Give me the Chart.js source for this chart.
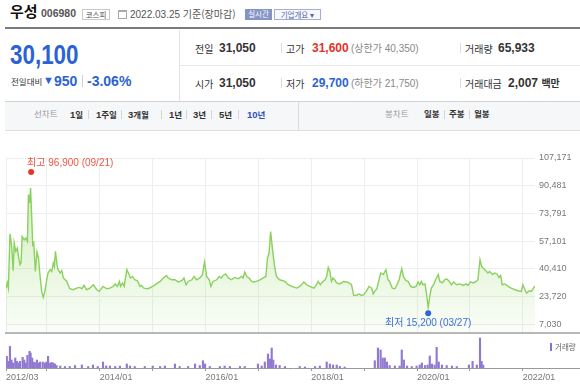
<!DOCTYPE html>
<html lang="ko">
<head>
<meta charset="utf-8">
<script src="https://cdn.jsdelivr.net/npm/chart.js@4.4.1/dist/chart.umd.min.js"></script>
<style>
  html, body { margin: 0; padding: 0; }
  body { width: 580px; height: 391px; overflow: hidden; background: #fff; position: relative;
         font-family: "Liberation Sans", "Noto Sans CJK KR", sans-serif; color: #333; }
  .a { position: absolute; white-space: nowrap; }
  .kr { font-family: "Noto Sans CJK KR", sans-serif; }
  .b { font-weight: bold; }
  .sep { position: absolute; width: 1px; background: #dcdcdc; }
  .badge { position: absolute; height: 11px; line-height: 10px; font-size: 7.5px; text-align: center;
           font-family: "Noto Sans CJK KR", sans-serif; box-sizing: border-box; }
  .row { position: absolute; line-height: 14px; height: 14px; white-space: nowrap; }
  .lbl { font-family: "Noto Sans CJK KR", sans-serif; font-size: 10px; color: #333; }
  .num { font-size: 12px; font-weight: bold; color: #333; }
  .lim { font-size: 10px; color: #888; }
  .tab { position: absolute; top: 108px; line-height: 13px; font-size: 9.5px; white-space: nowrap;
         font-family: "Liberation Sans", "Noto Sans CJK KR", sans-serif; font-weight: bold; color: #333; }
  .tab .kr { font-size: 8.5px; }
  .tab.kr { font-size: 8.5px; }
  .tsep { position: absolute; top: 110px; width: 1px; height: 9px; background: #d4d4d4; }
  #priceBox { position: absolute; left: 0; top: 140px; width: 580px; height: 203px; }
  #volBox { position: absolute; left: 0; top: 335px; width: 580px; height: 56px; }
</style>
</head>
<body>
<!-- header -->
<div class="a kr b" style="left:10px;top:0px;font-size:15px;line-height:22px;color:#111;">우성</div>
<div class="a b" style="left:41px;top:6px;font-size:10.5px;line-height:14px;color:#555;">006980</div>
<div class="badge" style="left:82px;top:9px;width:28px;border:1px solid #c9c9c9;color:#555;">코스피</div>
<div class="a" style="left:118px;top:10px;width:7px;height:6px;border:1px solid #aaa;border-top:2px solid #aaa;"></div>
<div class="a" style="left:130px;top:7px;font-size:10px;line-height:14px;color:#555;">2022.03.25 <span class="kr">기준(장마감)</span></div>
<div class="badge" style="left:245px;top:9px;width:27px;background:#8594c4;color:#fff;">실시간</div>
<div class="badge" style="left:274px;top:9px;width:47px;border:1px solid #a3aed6;background:#f6f8fc;color:#5668a8;">기업개요 ▾</div>
<div class="a" style="left:5px;top:27px;width:575px;height:2px;background:#7a7a7a;"></div>

<!-- price summary -->
<div class="a b" style="left:10px;top:39px;font-size:28px;line-height:32px;color:#2c63d3;transform:scaleX(0.8);transform-origin:left top;">30,100</div>
<div class="a kr" style="left:11px;top:74px;font-size:8.5px;line-height:14px;color:#333;">전일대비</div>
<div class="a" style="left:43px;top:73px;font-size:11px;line-height:15px;color:#2c63d3;">▼</div>
<div class="a b" style="left:54px;top:73px;font-size:14px;line-height:16px;color:#2c63d3;">950</div>
<div class="sep" style="left:82px;top:75px;height:12px;background:#d0d0d0;"></div>
<div class="a b" style="left:87px;top:73px;font-size:14px;line-height:16px;color:#2c63d3;">-3.06%</div>

<div class="sep" style="left:179px;top:30px;height:71px;background:#e3e3e3;"></div>
<div class="a" style="left:179px;top:65px;width:401px;height:1px;background:#e8e8e8;"></div>

<div class="row" style="left:195px;top:41px;"><span class="lbl">전일</span></div>
<div class="row num" style="left:219px;top:41px;">31,050</div>
<div class="sep" style="left:281px;top:43px;height:10px;"></div>
<div class="row" style="left:286px;top:41px;"><span class="lbl">고가</span></div>
<div class="row num" style="left:312px;top:41px;color:#e4312b;">31,600</div>
<div class="row lim" style="left:351px;top:41px;">(<span class="kr">상한가</span> 40,350)</div>
<div class="sep" style="left:460px;top:43px;height:10px;"></div>
<div class="row" style="left:465px;top:41px;"><span class="lbl">거래량</span></div>
<div class="row num" style="left:498px;top:41px;">65,933</div>

<div class="row" style="left:195px;top:76px;"><span class="lbl">시가</span></div>
<div class="row num" style="left:219px;top:76px;">31,050</div>
<div class="sep" style="left:281px;top:78px;height:10px;"></div>
<div class="row" style="left:286px;top:76px;"><span class="lbl">저가</span></div>
<div class="row num" style="left:312px;top:76px;color:#2c63d3;">29,700</div>
<div class="row lim" style="left:351px;top:76px;">(<span class="kr">하한가</span> 21,750)</div>
<div class="sep" style="left:460px;top:78px;height:10px;"></div>
<div class="row" style="left:465px;top:76px;"><span class="lbl">거래대금</span></div>
<div class="row num" style="left:508px;top:76px;">2,007 <span class="kr" style="font-size:10px;">백만</span></div>

<!-- period tabs -->
<div class="a" style="left:5px;top:101px;width:575px;height:28px;background:#f6f7f9;border-top:1px solid #d3d3d3;border-bottom:1px solid #dedede;"></div>
<div class="sep" style="left:298px;top:102px;height:28px;background:#dadada;"></div>
<div class="tab kr" style="left:34px;font-weight:normal;color:#999;">선차트</div>
<div class="tab" style="left:70px;">1<span class="kr">일</span></div>
<div class="tsep" style="left:88px;"></div>
<div class="tab" style="left:96px;">1<span class="kr">주일</span></div>
<div class="tsep" style="left:121px;"></div>
<div class="tab" style="left:128px;">3<span class="kr">개월</span></div>
<div class="tsep" style="left:161px;"></div>
<div class="tab" style="left:169px;">1<span class="kr">년</span></div>
<div class="tsep" style="left:186px;"></div>
<div class="tab" style="left:193px;">3<span class="kr">년</span></div>
<div class="tsep" style="left:211px;"></div>
<div class="tab" style="left:219px;">5<span class="kr">년</span></div>
<div class="tsep" style="left:238px;"></div>
<div class="tab" style="left:247px;color:#2d4fb8;">10<span class="kr">년</span></div>
<div class="tab kr" style="left:385px;font-weight:normal;color:#999;">봉차트</div>
<div class="tab kr" style="left:424px;">일봉</div>
<div class="tsep" style="left:444px;"></div>
<div class="tab kr" style="left:449px;">주봉</div>
<div class="tsep" style="left:469px;"></div>
<div class="tab kr" style="left:474px;">월봉</div>

<!-- charts -->
<div id="priceBox"><canvas id="price"></canvas></div>
<div class="a" style="left:5px;top:332px;width:575px;height:2px;background:#b8b8b8;"></div>
<div id="volBox"><canvas id="vol"></canvas></div>
<div class="a" style="left:550px;top:343px;width:2px;height:8px;background:#8a6fcd;"></div>
<div class="a kr" style="left:555px;top:341px;font-size:7.5px;line-height:12px;color:#666;">거래량</div>

<script>
// weekly closes, x in decimal years
const PRICE_DATES = [
  2012.225, 2012.25, 2012.27, 2012.30, 2012.33, 2012.36, 2012.38, 2012.41, 2012.44, 2012.46,
  2012.49, 2012.51, 2012.53, 2012.57, 2012.60, 2012.63, 2012.65, 2012.67, 2012.69, 2012.71,
  2012.73, 2012.75, 2012.78, 2012.81, 2012.84, 2012.87, 2012.90, 2012.93, 2012.96, 2012.99,
  2013.02, 2013.06, 2013.09, 2013.12, 2013.14, 2013.16, 2013.19, 2013.21, 2013.25, 2013.28,
  2013.31, 2013.34, 2013.37, 2013.40, 2013.43, 2013.50, 2013.56, 2013.62, 2013.66, 2013.70,
  2013.75, 2013.81, 2013.88, 2013.94, 2013.99,
  2014.06, 2014.13, 2014.19, 2014.25, 2014.29, 2014.33, 2014.37, 2014.39, 2014.43, 2014.46,
  2014.51, 2014.54, 2014.58, 2014.62, 2014.66, 2014.71, 2014.76, 2014.79, 2014.83, 2014.91,
  2015.00, 2015.07, 2015.14, 2015.20, 2015.26, 2015.29, 2015.36, 2015.42, 2015.48, 2015.55,
  2015.59, 2015.63, 2015.67, 2015.74, 2015.78, 2015.83, 2015.89, 2015.94, 2015.98,
  2016.02, 2016.07, 2016.10, 2016.14, 2016.21, 2016.26, 2016.30, 2016.33, 2016.38, 2016.43,
  2016.49, 2016.55, 2016.62, 2016.68, 2016.71, 2016.74, 2016.78, 2016.82, 2016.87, 2016.91, 2016.96,
  2017.03, 2017.09, 2017.14, 2017.17, 2017.20, 2017.23, 2017.27, 2017.30, 2017.34, 2017.40,
  2017.50, 2017.56, 2017.63, 2017.72, 2017.78, 2017.86, 2017.91, 2017.97,
  2018.05, 2018.09, 2018.13, 2018.17, 2018.21, 2018.26, 2018.29, 2018.32, 2018.35, 2018.38,
  2018.41, 2018.44, 2018.48, 2018.53, 2018.57, 2018.61, 2018.67, 2018.71, 2018.76, 2018.80,
  2018.85, 2018.90, 2018.95, 2018.99,
  2019.04, 2019.09, 2019.14, 2019.17, 2019.20, 2019.24, 2019.28, 2019.31, 2019.36, 2019.41,
  2019.45, 2019.48, 2019.53, 2019.58, 2019.62, 2019.66, 2019.71, 2019.74, 2019.79, 2019.83,
  2019.88, 2019.92, 2019.98,
  2020.02, 2020.05, 2020.08, 2020.11, 2020.15, 2020.18, 2020.21, 2020.24, 2020.27, 2020.32,
  2020.35, 2020.40, 2020.43, 2020.48, 2020.52, 2020.56, 2020.61, 2020.65, 2020.69, 2020.75,
  2020.81, 2020.87, 2020.93, 2020.96,
  2021.01, 2021.06, 2021.12, 2021.15, 2021.19, 2021.22, 2021.25, 2021.30, 2021.34, 2021.37,
  2021.43, 2021.47, 2021.51, 2021.55, 2021.58, 2021.61, 2021.66, 2021.72, 2021.78, 2021.85,
  2021.91, 2021.97,
  2022.00, 2022.04, 2022.07, 2022.12, 2022.16, 2022.21, 2022.23
];
const PRICE_VALUES = [
  28800, 32000, 28800, 61400, 54900, 39300, 56000, 50900, 52900, 47900,
  42900, 44100, 59900, 57900, 59000, 56900, 85100, 80100, 89100, 73000,
  54900, 56000, 38800, 50500, 46900, 35800, 26800, 23200, 26800, 32800,
  37900, 39900, 38800, 43900, 41900, 50900, 42900, 39900, 37900, 39300,
  34900, 33800, 33200, 30800, 28400, 27800, 28800, 29200, 28400, 30400,
  27800, 28800, 30800, 27800, 26800,
  29800, 28400, 28800, 29800, 31300, 29800, 32800, 29800, 31900, 29800,
  39900, 37900, 34900, 35800, 33800, 33200, 29800, 30400, 28800, 28400,
  29800, 31300, 32800, 34900, 36400, 34900, 33800, 33800, 32500, 33200,
  34900, 30800, 32800, 33800, 35800, 33800, 34900, 36900, 44500,
  35800, 33800, 29800, 32800, 33800, 35800, 34900, 36400, 37300, 34900,
  33800, 35200, 34400, 35800, 34900, 38500, 35800, 34900, 32800, 32500, 32800,
  33800, 34900, 35800, 46900, 49900, 62900, 50900, 42900, 35800, 33800,
  32800, 30800, 29800, 28800, 29800, 32500, 30800, 29800,
  28800, 30400, 32800, 30800, 32500, 33800, 35800, 41300, 38800, 32800,
  34900, 33800, 31900, 31300, 31900, 32800, 32500, 31900, 30800, 24400,
  24400, 25200, 24400, 24800,
  26800, 29800, 28800, 25200, 26800, 28400, 33800, 37900, 37000, 39900,
  33800, 32800, 28800, 28400, 30800, 33800, 40500, 35800, 33200, 32800,
  29800, 29200, 29800,
  32500, 30800, 32800, 30800, 31300, 24800, 17200, 23800, 28800, 31300,
  33800, 36900, 32800, 31900, 33800, 34400, 32800, 30800, 32500, 30800,
  31300, 30400, 31300, 30400,
  32500, 31900, 32800, 33800, 45900, 41900, 40900, 39300, 37900, 38800,
  36900, 37900, 37300, 35200, 36400, 30800, 31300, 29800, 28800, 27800,
  27200, 26800,
  30800, 27800, 25800, 27200, 26800, 29200, 30100
];

const VOLUME_DATES = [
  2012.24, 2012.27, 2012.30, 2012.33, 2012.36, 2012.40, 2012.43, 2012.46, 2012.49, 2012.54,
  2012.57, 2012.60, 2012.63, 2012.67, 2012.69, 2012.72, 2012.74, 2012.77, 2012.81, 2012.84,
  2012.87, 2012.92, 2012.96, 2012.99, 2013.02, 2013.06, 2013.09, 2013.12, 2013.15, 2013.18,
  2013.25, 2013.34, 2013.43, 2013.53, 2013.66, 2013.78, 2013.87, 2013.96,
  2014.06, 2014.12, 2014.19, 2014.29, 2014.38, 2014.51, 2014.57, 2014.66, 2014.85,
  2015.00, 2015.14, 2015.23, 2015.42, 2015.51, 2015.67, 2015.80, 2015.89, 2015.95, 2015.99,
  2016.08, 2016.27, 2016.36, 2016.46, 2016.65, 2016.74, 2016.99,
  2017.06, 2017.12, 2017.18, 2017.22, 2017.25, 2017.28, 2017.33, 2017.40, 2017.50, 2017.78, 2017.88,
  2018.07, 2018.16, 2018.29, 2018.35, 2018.41, 2018.48, 2018.54, 2018.63,
  2019.20, 2019.26, 2019.31, 2019.35, 2019.39, 2019.43, 2019.48, 2019.58, 2019.67, 2019.71,
  2019.75, 2019.81, 2019.90, 2019.99,
  2020.05, 2020.09, 2020.15, 2020.20, 2020.24, 2020.28, 2020.33, 2020.37, 2020.41, 2020.47,
  2020.56, 2020.66, 2020.75, 2020.98,
  2021.05, 2021.13, 2021.19, 2021.22, 2021.25
];
const VOLUME_VALUES = [
  1160, 670, 2160, 800, 500, 1000, 670, 500, 670, 1070,
  800, 500, 1270, 1670, 1500, 1000, 600, 550, 800, 500,
  600, 600, 500, 600, 1170, 500, 550, 500, 400, 250,
  200, 150, 150, 250, 300, 150, 300, 150,
  600, 200, 200, 150, 200, 400, 200, 150, 150,
  200, 150, 200, 400, 150, 150, 400, 250, 730, 400,
  150, 150, 200, 150, 150, 150, 400,
  200, 600, 1400, 900, 2000, 800, 300, 250, 150, 150, 100,
  150, 200, 600, 400, 300, 300, 150, 100,
  730, 2000, 1800, 1000, 1000, 600, 250, 200, 200, 1800,
  800, 200, 150, 200,
  300, 500, 250, 300, 1200, 400, 300, 2070, 600, 300,
  250, 200, 150, 300,
  670, 300, 3000, 670, 300
];

const Y_TICKS = [7030, 23720, 40410, 57101, 73791, 90481, 107171];
const X_TICKS = [2012.225, 2013, 2014, 2015, 2016, 2017, 2018, 2019, 2020, 2021, 2022];
const X_LABELS = ['2012/03', '', '2014/01', '', '2016/01', '', '2018/01', '', '2020/01', '', '2022/01'];

const HIGH = { date: 2012.70, value: 96900, text: '최고 96,900 (09/21)' };
const LOW = { date: 2020.21, value: 15200, text: '최저 15,200 (03/27)' };

const X_MIN = 2012.225, X_MAX = 2022.23;
const Y_MIN = 1734, Y_MAX = 107171;
const FONT = '"Liberation Sans", "Noto Sans CJK KR", sans-serif';

// high / low markers
const markers = {
  id: 'markers',
  afterDatasetsDraw(chart) {
    const { ctx, scales: { x, y } } = chart;
    ctx.save();
    ctx.font = '10px ' + FONT;
    ctx.textBaseline = 'middle';

    const hx = x.getPixelForValue(HIGH.date), hy = y.getPixelForValue(HIGH.value) - 3;
    ctx.fillStyle = '#e8352a';
    ctx.beginPath(); ctx.arc(hx, hy, 3, 0, Math.PI * 2); ctx.fill();
    ctx.fillStyle = '#f05545';
    ctx.textAlign = 'left';
    ctx.fillText(HIGH.text, hx - 4, hy - 9);

    const lx = x.getPixelForValue(LOW.date), ly = y.getPixelForValue(LOW.value) + 2.5;
    ctx.fillStyle = '#2f66d4';
    ctx.beginPath(); ctx.arc(lx, ly, 3, 0, Math.PI * 2); ctx.fill();
    ctx.fillStyle = '#3c70d8';
    ctx.textAlign = 'center';
    ctx.fillText(LOW.text, lx, ly + 10);
    ctx.restore();
  }
};

new Chart(document.getElementById('price'), {
  type: 'line',
  data: {
    datasets: [{
      data: PRICE_DATES.map((d, i) => ({ x: d, y: PRICE_VALUES[i] })),
      borderColor: '#8bd15e',
      borderWidth: 1.4,
      pointRadius: 0,
      tension: 0,
      fill: 'start',
      backgroundColor: (c) => {
        const a = c.chart.chartArea;
        if (!a) return 'rgba(140,210,90,0.2)';
        const g = c.chart.ctx.createLinearGradient(0, a.top, 0, a.bottom);
        g.addColorStop(0, 'rgba(140,210,90,0.45)');
        g.addColorStop(0.7, 'rgba(140,210,90,0.17)');
        g.addColorStop(1, 'rgba(140,210,90,0.04)');
        return g;
      }
    }]
  },
  options: {
    responsive: true,
    maintainAspectRatio: false,
    animation: false,
    layout: { padding: { left: 6, top: 18, right: 0, bottom: 10 } },
    plugins: { legend: { display: false }, tooltip: { enabled: false } },
    scales: {
      x: {
        type: 'linear', min: X_MIN, max: X_MAX,
        afterBuildTicks: (s) => { s.ticks = X_TICKS.map(v => ({ value: v })); },
        ticks: { display: false },
        grid: { color: '#eeeeee', drawTicks: false },
        border: { display: false }
      },
      y: {
        position: 'right', min: Y_MIN, max: Y_MAX,
        afterBuildTicks: (s) => { s.ticks = Y_TICKS.map(v => ({ value: v })); },
        afterFit: (s) => { s.width = 45; },
        ticks: { padding: 4, color: '#777', font: { size: 9, family: FONT },
                 callback: (v) => v.toLocaleString('en-US') },
        grid: { color: '#eeeeee', drawTicks: false },
        border: { display: false }
      }
    }
  },
  plugins: [markers]
});

new Chart(document.getElementById('vol'), {
  type: 'bar',
  data: {
    datasets: [{
      data: VOLUME_DATES.map((d, i) => ({ x: d, y: VOLUME_VALUES[i] })),
      backgroundColor: '#9179d2',
      barThickness: 1.5
    }]
  },
  options: {
    responsive: true,
    maintainAspectRatio: false,
    animation: false,
    layout: { padding: { left: 6, top: 2, right: 0, bottom: 0 } },
    plugins: { legend: { display: false }, tooltip: { enabled: false } },
    scales: {
      x: {
        type: 'linear', min: X_MIN, max: X_MIN + 574 * (X_MAX - X_MIN) / 529,
        offset: false,
        afterBuildTicks: (s) => { s.ticks = X_TICKS.map(v => ({ value: v })); },
        afterFit: (s) => { s.height = 23; },
        ticks: { align: 'start', autoSkip: false, maxRotation: 0, padding: 1, color: '#777',
                 font: { size: 9, family: FONT }, callback: (v, i) => X_LABELS[i] },
        grid: { drawOnChartArea: false, drawTicks: true, tickLength: 3, color: '#999', offset: false },
        border: { color: '#999' }
      },
      y: { display: false, min: 0, max: 3100 }
    }
  }
});
</script>
</body>
</html>
